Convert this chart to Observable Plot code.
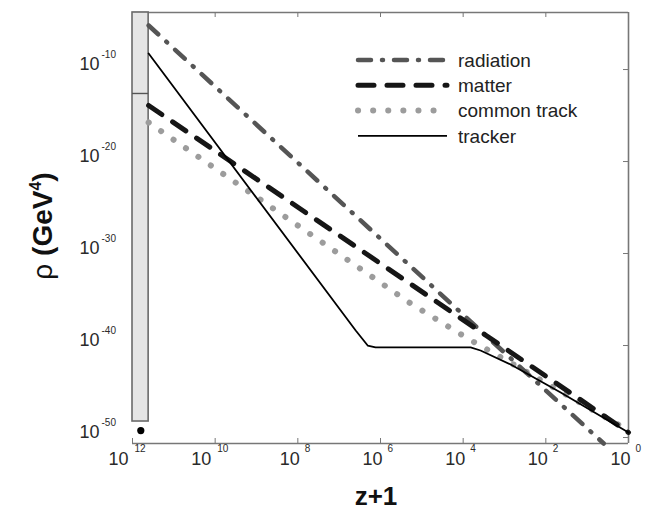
<!DOCTYPE html>
<html><head><meta charset="utf-8">
<script src="https://cdn.jsdelivr.net/npm/d3@7"></script>
<script src="https://cdn.jsdelivr.net/npm/@observablehq/plot@0.6"></script>
<style>body{margin:0;background:#fff}</style>
</head><body><div id="chart"></div>
<script>
// ---- data ----
const radiationZ   = [4.07e11, 3.02e3, 3.98];
const radiationRho = [6.17e-6, 1.58e-39, 2.24e-51];

const matterZ   = [4.07e11, 3.02e3, 1];
const matterRho = [1.23e-14, 1.58e-39, 3.55e-50];

const commonZ   = [4.07e11, 1.86e5, 7.76e3, 407, 1];
const commonRho = [1.74e-16, 3.72e-36, 5.89e-40, 3.16e-43, 5.89e-50];

const trackerZ   = [4.07e11, 3.98e6, 2.04e6, 1.32e6, 6.61e3, 3.80e3, 708, 43.7, 1];
const trackerRho = [5.5e-9, 4.27e-39, 1.0e-40, 6.17e-41, 6.17e-41, 2.88e-41, 8.71e-43, 7.94e-46, 3.55e-50];

const barZ = [1e12, 4.07e11];
const barRho = [5.5e-49, 1.585e-4];
const barDivider = [2.5e-13];
const initialPoint = [{z: 6.3e11, rho: 5.75e-50}];

const xTickExps = [12, 10, 8, 6, 4, 2, 0];
const yTickExps = [-10, -20, -30, -40, -50];
const xDomain = [1e12, 1];
const yDomain = [2.24e-51, 1.585e-4];

const legendLabels = ["radiation", "matter", "common track", "tracker"];

// ---- styles ----
const styles = {
  radiation: {stroke: "#555", strokeWidth: 4.5, strokeDasharray: "13,11,1,11", strokeLinecap: "round"},
  matter:    {stroke: "#161616", strokeWidth: 5, strokeDasharray: "16,13", strokeLinecap: "round"},
  common:    {stroke: "#9c9c9c", strokeWidth: 6, strokeDasharray: "0.1,15", strokeLinecap: "round"},
  tracker:   {stroke: "#000", strokeWidth: 1.8}
};
const rows = (zs, rs) => zs.map((z, i) => ({z, rho: rs[i]}));

const W = 666, H = 511, mL = 132, mR = 38, mT = 12, mB = 68;
const plotH = H - mT - mB, plotW = W - mL - mR;
const frameColor = "#777";
const labelColor = "#2a2a2a";

const chart = Plot.plot({
  width: W, height: H,
  marginLeft: mL, marginRight: mR, marginTop: mT, marginBottom: mB,
  x: {type: "log", domain: xDomain, axis: null},
  y: {type: "log", domain: yDomain, axis: null},
  style: {fontFamily: "'Liberation Sans', Arial, sans-serif", background: "#fff", color: labelColor},
  marks: [
    // frame (top, right, bottom)
    Plot.ruleY([yDomain[1]], {stroke: frameColor, strokeWidth: 1.6}),
    Plot.ruleY([yDomain[0]], {stroke: frameColor, strokeWidth: 1.6}),
    Plot.ruleX([xDomain[1]], {stroke: frameColor, strokeWidth: 1.6}),
    // inward ticks
    Plot.ruleX(xTickExps, {x: d => 10 ** d, insetTop: plotH - 5, stroke: frameColor, strokeWidth: 1}),
    Plot.ruleX(xTickExps, {x: d => 10 ** d, insetBottom: plotH - 5, stroke: frameColor, strokeWidth: 1}),
    Plot.ruleY(yTickExps, {y: d => 10 ** d, insetLeft: plotW - 5, stroke: frameColor, strokeWidth: 1}),
    // x tick labels
    Plot.text(xTickExps, {filter: d => String(d).length === 2, x: d => 10 ** d, frameAnchor: "bottom", text: () => "10", textAnchor: "end", dx: -4, dy: 21, fontSize: 18, fill: labelColor}),
    Plot.text(xTickExps, {filter: d => String(d).length === 2, x: d => 10 ** d, frameAnchor: "bottom", text: d => String(d), textAnchor: "start", dx: 2, dy: 8, fontSize: 10, fill: labelColor}),
    Plot.text(xTickExps, {filter: d => String(d).length === 1, x: d => 10 ** d, frameAnchor: "bottom", text: () => "10", textAnchor: "end", dx: 2, dy: 21, fontSize: 18, fill: labelColor}),
    Plot.text(xTickExps, {filter: d => String(d).length === 1, x: d => 10 ** d, frameAnchor: "bottom", text: d => String(d), textAnchor: "start", dx: 7, dy: 8, fontSize: 10, fill: labelColor}),
    // y tick labels
    Plot.text(yTickExps, {y: d => 10 ** d, frameAnchor: "left", text: () => "10", textAnchor: "end", dx: -33, dy: -5, fontSize: 18, fill: labelColor}),
    Plot.text(yTickExps, {y: d => 10 ** d, frameAnchor: "left", text: d => String(d), textAnchor: "start", dx: -31, dy: -15, fontSize: 10, fill: labelColor}),
    // initial-condition bar
    Plot.rect([0], {x1: () => barZ[0], x2: () => barZ[1], y1: () => barRho[0], y2: () => barRho[1], fill: "#e5e5e5", stroke: "#6a6a6a", strokeWidth: 1.6}),
    Plot.ruleY(barDivider, {x1: barZ[0], x2: barZ[1], stroke: "#555", strokeWidth: 1.4}),
    Plot.dot(initialPoint, {x: "z", y: "rho", r: 3.6, fill: "#000", stroke: "none"}),
    // curves
    Plot.line(rows(commonZ, commonRho), {x: "z", y: "rho", ...styles.common}),
    Plot.line(rows(radiationZ, radiationRho), {x: "z", y: "rho", ...styles.radiation}),
    Plot.line(rows(matterZ, matterRho), {x: "z", y: "rho", ...styles.matter}),
    Plot.line(rows(trackerZ, trackerRho), {x: "z", y: "rho", ...styles.tracker})
  ]
});

document.getElementById("chart").appendChild(chart);

// ---- legend and axis titles (layout) ----
const svg = d3.select(chart);
const legendStyles = [styles.radiation, styles.matter, styles.common, styles.tracker];
const lg = svg.append("g").attr("text-anchor", "start");
legendLabels.forEach((label, i) => {
  const y = 60 + i * 25.3;
  const s = legendStyles[i];
  lg.append("line").attr("x1", 358).attr("x2", 447).attr("y1", y).attr("y2", y)
    .attr("stroke", s.stroke).attr("stroke-width", s.strokeWidth)
    .attr("stroke-dasharray", s.strokeDasharray || null)
    .attr("stroke-linecap", s.strokeLinecap || null);
  lg.append("text").attr("x", 458).attr("y", y).attr("dy", "0.35em")
    .attr("text-anchor", "start")
    .attr("font-size", 19).attr("fill", "#222").text(label);
});

svg.append("text").attr("x", 376).attr("y", 496).attr("dy", "0.35em")
  .attr("text-anchor", "middle").attr("font-size", 26).attr("font-weight", "bold")
  .attr("fill", "#111").text("z+1");

const yt = svg.append("text").attr("transform", "translate(52,226) rotate(-90)")
  .attr("text-anchor", "middle").attr("font-size", 28).attr("fill", "#111");
yt.append("tspan").attr("font-weight", "normal").text("ρ");
yt.append("tspan").attr("font-weight", "bold").text(" (GeV");
yt.append("tspan").attr("font-weight", "bold").attr("font-size", 16).attr("dy", -11).text("4");
yt.append("tspan").attr("font-weight", "bold").attr("dy", 11).text(")");
</script>
</body></html>
